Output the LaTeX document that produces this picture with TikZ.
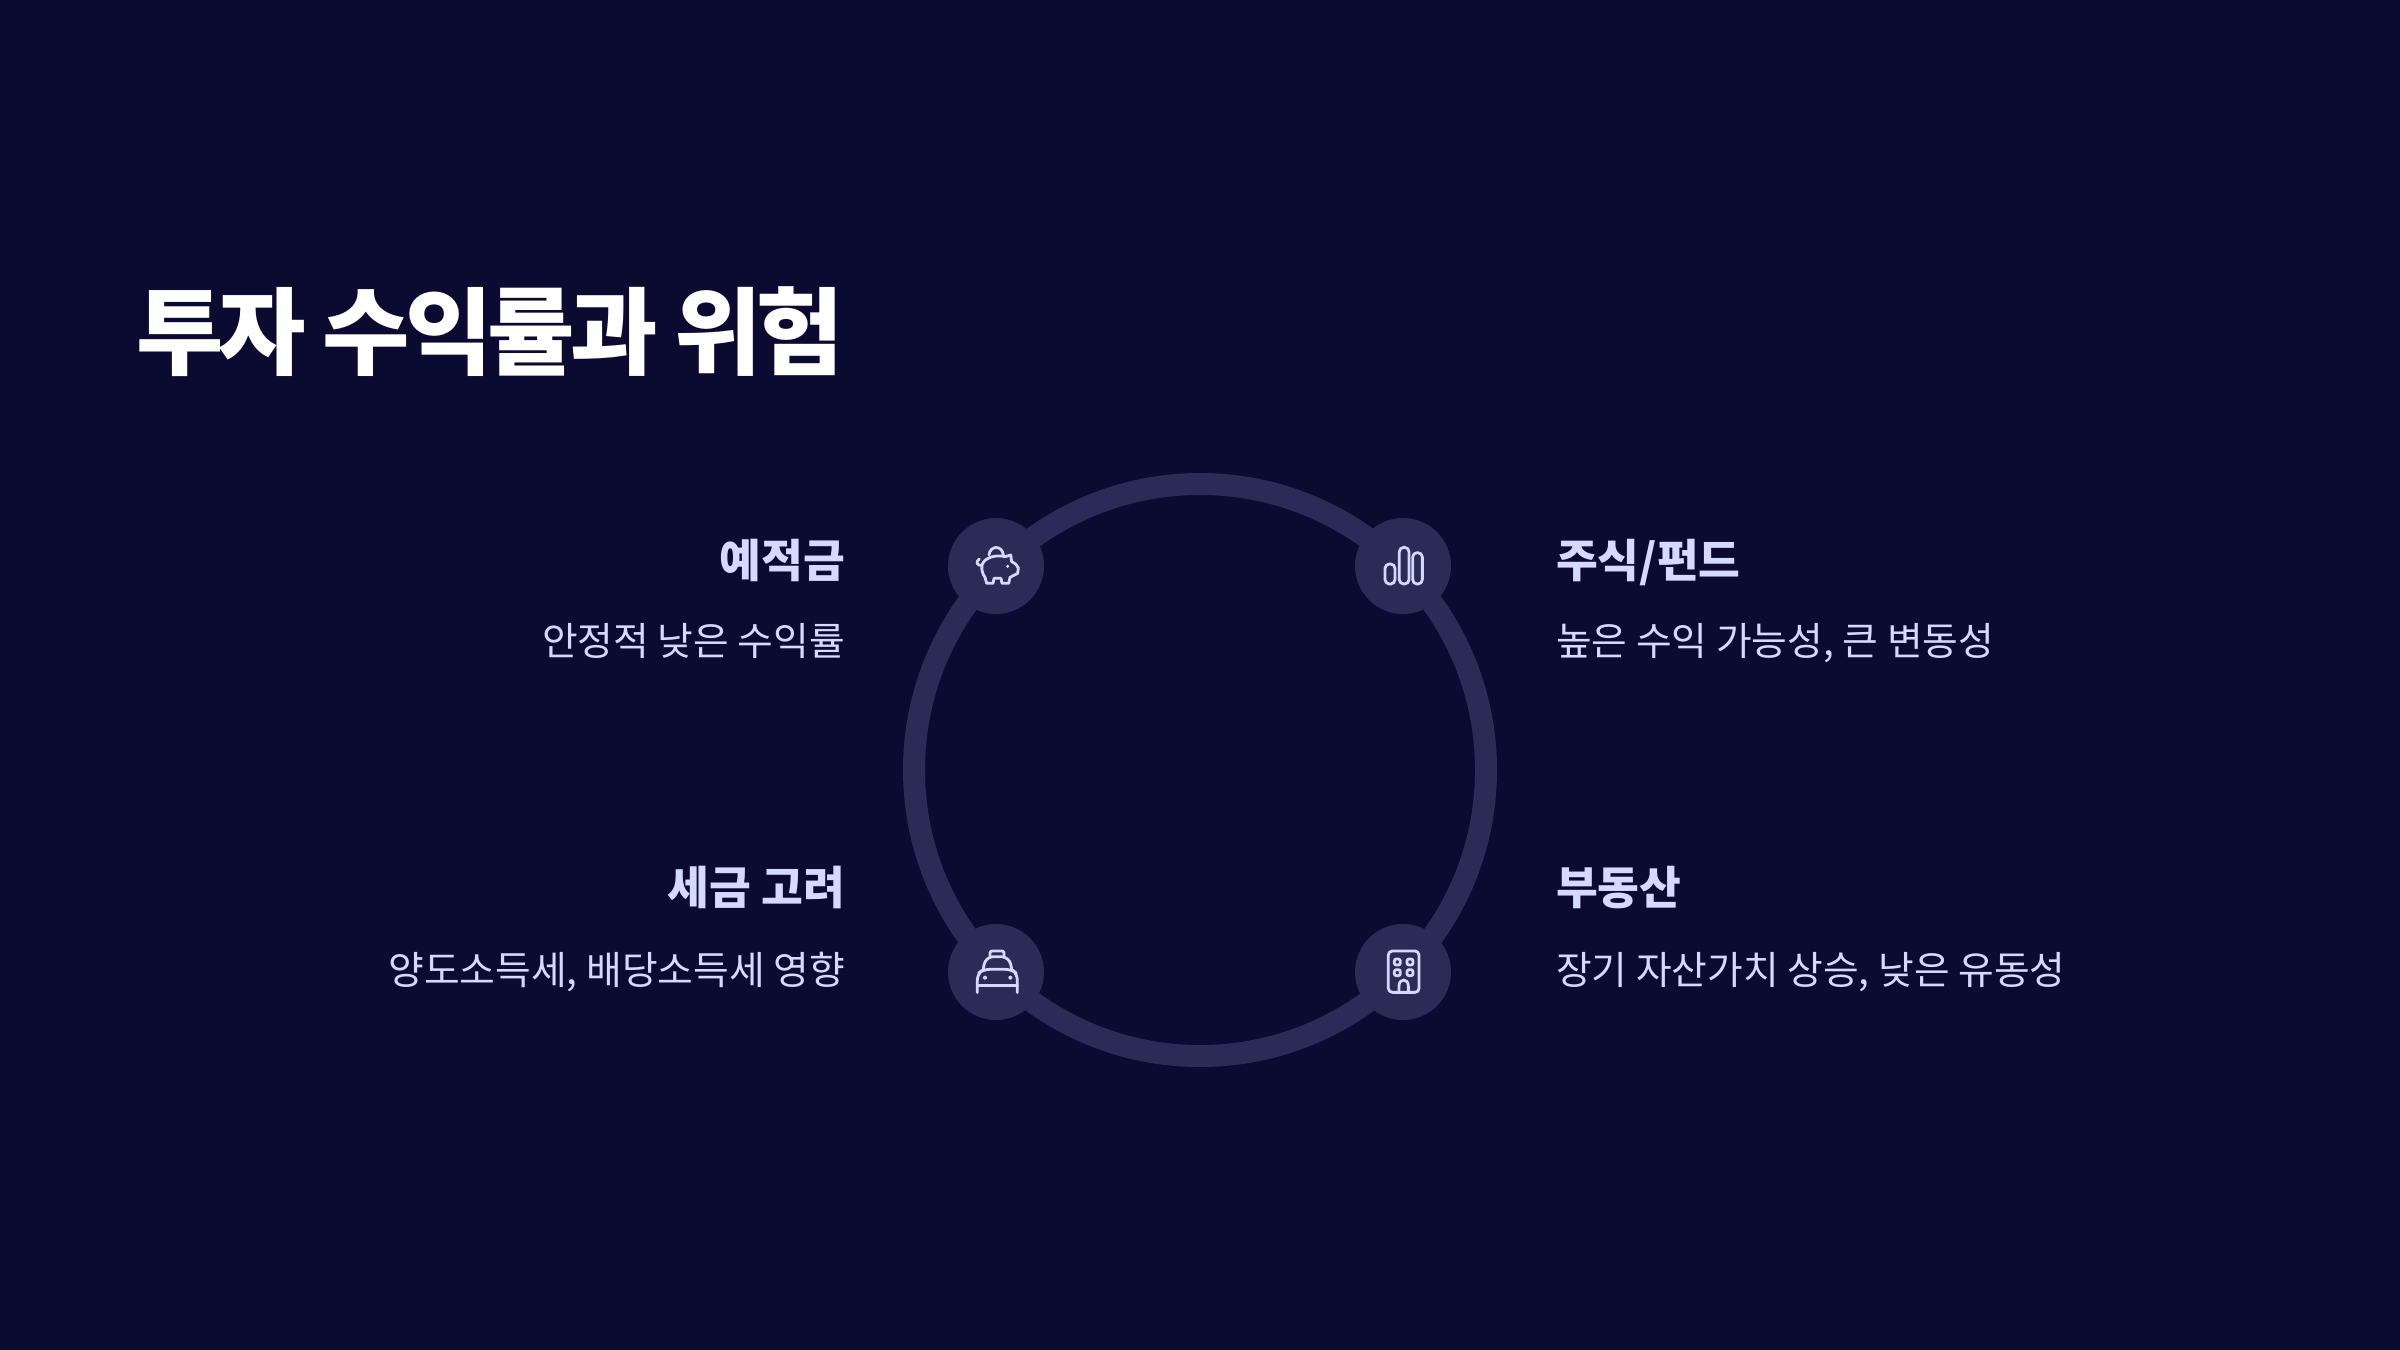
\documentclass[tikz,border=0pt]{standalone}
\usepackage{fontspec}
\newfontfamily\kr{Noto Sans CJK KR}
\newfontfamily\krt[LetterSpace=-5.2]{Noto Sans CJK KR}
\definecolor{bgc}{HTML}{0B0A31}
\definecolor{ringc}{HTML}{2B2B57}
\definecolor{inkc}{HTML}{D6D9FF}
\begin{document}
\begin{tikzpicture}[x=0.5pt,y=-0.5pt,
  txt/.style={inner sep=0pt,outer sep=0pt,text=inkc},
  ttl/.style={inner sep=0pt,outer sep=0pt,text=white,font=\krt\bfseries\fontsize{47.5}{56}\selectfont},
  hd/.style={txt,font=\kr\bfseries\fontsize{22.7}{26}\selectfont},
  sb/.style={txt,font=\kr\fontsize{19.4}{24}\selectfont},
  dot/.style={circle,fill=ringc,minimum size=48pt,inner sep=0pt,outer sep=0pt},
  ic/.style={draw=inkc,line width=1.4pt,line cap=round,line join=round},
  zoomed/.style={x=0.16667pt,y=-0.16667pt}]
\useasboundingbox (0,0) rectangle (2400,1350);
\fill[bgc] (0,0) rectangle (2400,1350);
\node[circle,draw=ringc,line width=11pt,minimum size=286pt,inner sep=0pt] (ring) at (1200,770) {};
\node[dot] (n1) at (996,566) {};
\node[dot] (n2) at (1403,566) {};
\node[dot] (n3) at (996,972) {};
\node[dot] (n4) at (1403,972) {};
% pig
\begin{scope}[shift={(920,490)},zoomed]
\draw[ic] (207,195) .. controls (210,165) and (247,165) .. (250,195);
\draw[ic] (186,226) .. controls (190,205) and (225,192) .. (255,200) -- (272,195) -- (275,215) .. controls (285,220) and (293,226) .. (295,234) -- (293,250) -- (270,262) -- (266,280) -- (246,280) -- (243,265) -- (222,265) -- (219,280) -- (200,280) -- (195,262) .. controls (187,250) and (184,240) .. (186,226) .. controls (170,228) and (166,215) .. (178,207);
\fill[inkc] (263,229) circle[radius=5];
\end{scope}
% bars
\begin{scope}[shift={(1330,490)},zoomed]
\draw[ic,rounded corners=2.2pt] (165,222) rectangle (195,282);
\draw[ic,rounded corners=2.2pt] (208,172) rectangle (237,282);
\draw[ic,rounded corners=2.2pt] (248,188) rectangle (277,282);
\end{scope}
% taxi
\begin{scope}[shift={(920,900)},zoomed]
\draw[ic,rounded corners=1pt] (210,170) -- (210,153) -- (252,153) -- (252,170);
\draw[ic,rounded corners=4pt] (190,208) -- (196,170) -- (268,170) -- (275,208);
\draw[ic,rounded corners=3pt] (172,278) -- (172,222) -- (190,208) -- (275,208) -- (292,222) -- (292,278);
\draw[ic] (172,256) -- (292,256);
\fill[inkc] (195,233) circle[radius=6] (271,233) circle[radius=6];
\end{scope}
% building
\begin{scope}[shift={(1330,900)},zoomed]
\draw[ic,rounded corners=2pt] (175,153) rectangle (267,277);
\foreach \wx/\wy in {202/186,240/186,202/218,240/218}
  \draw[ic,rounded corners=1pt] (\wx-9,\wy-9) rectangle (\wx+9,\wy+9);
\draw[ic] (207,277) -- (207,258) .. controls (207,234) and (235,234) .. (235,258) -- (235,277);
\end{scope}
\node[ttl,anchor=base west] (title) at (136,367) {투자 수익률과 위험};
\node[hd,anchor=base east] (h1) at (845,577) {예적금};
\node[sb,anchor=base east] (s1) at (845,655) {안정적 낮은 수익률};
\node[hd,anchor=base east] (h3) at (845,904) {세금 고려};
\node[sb,anchor=base east] (s3) at (845,984) {양도소득세, 배당소득세 영향};
\node[hd,anchor=base west] (h2) at (1556,577) {주식/펀드};
\node[sb,anchor=base west] (s2) at (1556,655) {높은 수익 가능성, 큰 변동성};
\node[hd,anchor=base west] (h4) at (1556,904) {부동산};
\node[sb,anchor=base west] (s4) at (1556,984) {장기 자산가치 상승, 낮은 유동성};
\end{tikzpicture}
\end{document}
